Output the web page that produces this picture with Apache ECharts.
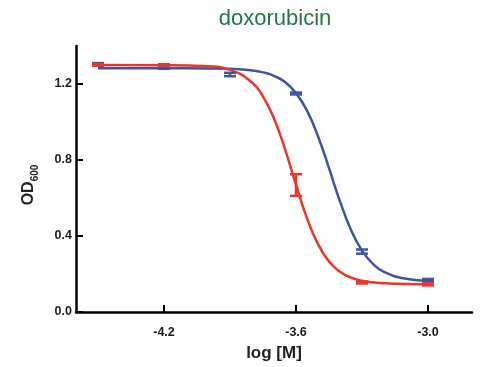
<!DOCTYPE html>
<html>
<head>
<meta charset="utf-8">
<script src="https://cdn.jsdelivr.net/npm/echarts@6/dist/echarts.min.js"></script>
<style>
  html, body { margin: 0; padding: 0; background: #fff; }
  #chart { width: 481px; height: 367px; }
</style>
</head>
<body>
<div id="chart"></div>
<script>
// measured points (log dose, mean OD600, error)
const doses = [-4.5, -4.2, -3.9, -3.6, -3.3, -3.0]
const blueMean = [1.305, 1.285, 1.250, 1.150, 0.318, 0.168]
const blueErr = [0.005, 0.005, 0.009, 0.005, 0.011, 0.006]
const redMean = [1.300, 1.300, null, 0.668, 0.155, 0.146]
const redErr = [0.004, 0.004, null, 0.057, 0.005, 0.006]

// fitted curves
const fitX = [-4.5, -4.2, -4.0, -3.9, -3.8, -3.75, -3.7, -3.65, -3.6, -3.55, -3.5, -3.45, -3.4, -3.35, -3.3, -3.25, -3.2, -3.1, -3.0]
const redFit = [1.300, 1.299, 1.293, 1.274, 1.208, 1.134, 1.018, 0.857, 0.670, 0.494, 0.357, 0.266, 0.212, 0.181, 0.164, 0.156, 0.151, 0.147, 0.146]
const blueFit = [1.283, 1.283, 1.282, 1.280, 1.271, 1.261, 1.243, 1.210, 1.152, 1.060, 0.925, 0.757, 0.582, 0.432, 0.323, 0.253, 0.211, 0.175, 0.164]

const xTicks = [-4.2, -3.6, -3.0]
const yTicks = [0, 0.4, 0.8, 1.2]

const RED = '#ee3526'
const BLUE = '#3c55a5'

function errorBars(means, errs, color) {
  const data = []
  doses.forEach((d, i) => {
    if (means[i] != null) data.push([d, means[i], means[i] - errs[i], means[i] + errs[i]])
  })
  return {
    type: 'custom',
    data: data,
    encode: { x: 0, y: [1, 2, 3] },
    z: 5,
    renderItem(params, api) {
      const x = api.value(0)
      const lo = api.coord([x, api.value(2)])
      const hi = api.coord([x, api.value(3)])
      const w = 6
      const style = { stroke: color, lineWidth: 2.5 }
      return {
        type: 'group',
        children: [
          { type: 'line', shape: { x1: lo[0], y1: lo[1], x2: hi[0], y2: hi[1] }, style },
          { type: 'line', shape: { x1: lo[0] - w, y1: lo[1], x2: lo[0] + w, y2: lo[1] }, style },
          { type: 'line', shape: { x1: hi[0] - w, y1: hi[1], x2: hi[0] + w, y2: hi[1] }, style }
        ]
      }
    }
  }
}

const chart = echarts.init(document.getElementById('chart'))
chart.setOption({
  animation: false,
  title: {
    text: 'doxorubicin',
    left: 270,
    textAlign: 'center',
    top: 3,
    textStyle: { color: '#1d7a44', fontSize: 22, fontWeight: 'normal', fontFamily: 'Liberation Sans' }
  },
  grid: { left: 76, right: 9, top: 46, bottom: 54 },
  xAxis: {
    type: 'value',
    min: -4.6,
    max: -2.8,
    name: 'log [M]',
    nameLocation: 'middle',
    nameGap: 33,
    nameTextStyle: { fontSize: 17, fontWeight: 'bold', color: '#222', fontFamily: 'Liberation Sans' },
    splitLine: { show: false },
    axisLine: { lineStyle: { color: '#000', width: 2.5 } },
    axisTick: { inside: true, length: 7, customValues: xTicks, lineStyle: { color: '#000', width: 2 } },
    axisLabel: {
      customValues: xTicks,
      margin: 14,
      fontSize: 12.5,
      fontWeight: 'bold',
      color: '#1a1a1a',
      fontFamily: 'Liberation Sans',
      formatter: v => v.toFixed(1)
    }
  },
  yAxis: {
    type: 'value',
    min: 0,
    max: 1.4,
    name: '{a|OD}{b|600}',
    nameLocation: 'middle',
    nameGap: 39,
    nameTextStyle: {
      color: '#222',
      fontFamily: 'Liberation Sans',
      padding: [0, 12, 0, 0],
      rich: {
        a: { fontSize: 16, fontWeight: 'bold', color: '#222', fontFamily: 'Liberation Sans' },
        b: { fontSize: 10, fontWeight: 'bold', color: '#222', fontFamily: 'Liberation Sans', verticalAlign: 'bottom', padding: [0, 0, -3, 0] }
      }
    },
    splitLine: { show: false },
    axisLine: { lineStyle: { color: '#000', width: 2.5 } },
    axisTick: { inside: true, length: 7, customValues: yTicks, lineStyle: { color: '#000', width: 2 } },
    axisLabel: {
      customValues: yTicks,
      margin: 4,
      fontSize: 12.5,
      fontWeight: 'bold',
      color: '#1a1a1a',
      fontFamily: 'Liberation Sans',
      formatter: v => v.toFixed(1)
    }
  },
  series: [
    {
      type: 'line',
      data: fitX.map((x, i) => [x, blueFit[i]]),
      showSymbol: false,
      smooth: true,
      lineStyle: { color: BLUE, width: 2.5 },
      z: 2
    },
    {
      type: 'line',
      data: fitX.map((x, i) => [x, redFit[i]]),
      showSymbol: false,
      smooth: true,
      lineStyle: { color: RED, width: 2.5 },
      z: 3
    },
    errorBars(blueMean, blueErr, BLUE),
    errorBars(redMean, redErr, RED)
  ]
})
</script>
</body>
</html>
